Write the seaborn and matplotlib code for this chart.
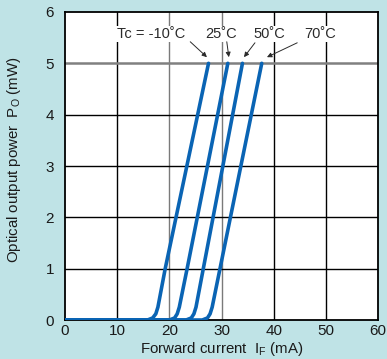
import numpy as np
import pandas as pd
import matplotlib
matplotlib.use("Agg")
import matplotlib.pyplot as plt
import seaborn as sns

# Light output vs forward current
temps = ["-10", "25", "50", "70"]
curve_y = [0, 0, 0.04, 0.12, 0.25, 1, 5]
curve_x = {
    "-10": [0, 15.8, 16.8, 17.4, 17.8, 19.2, 27.5],
    "25": [0, 20.0, 21.0, 21.5, 21.9, 23.4, 31.2],
    "50": [0, 23.2, 24.2, 24.7, 25.1, 26.5, 34.0],
    "70": [0, 26.3, 27.3, 27.8, 28.2, 29.7, 37.7],
}
label_texts = ["Tc = -10˚C", "25˚C", "50˚C", "70˚C"]
label_x = [16.5, 29.9, 39.1, 48.9]
label_y = 5.57
arrow_from = [(24.0, 5.42), (31.0, 5.42), (36.4, 5.40), (44.5, 5.40)]
arrow_to = [(27.2, 5.12), (31.4, 5.12), (34.3, 5.12), (38.7, 5.12)]

x_ticks = [0, 10, 20, 30, 40, 50, 60]
y_ticks = [0, 1, 2, 3, 4, 5, 6]

sns.set_theme(style="white")
plt.rcParams["font.family"] = ["Liberation Sans", "DejaVu Sans"]

bg = "#bfe3e6"
blue = "#0a64b4"

rows = []
for t in temps:
    for xv, yv in zip(curve_x[t], curve_y):
        rows.append({"temp": t, "current": xv, "power": yv})
df = pd.DataFrame(rows)

fig = plt.figure(figsize=(3.87, 3.59), dpi=100, facecolor=bg)
ax = fig.add_axes([0.168, 0.1086, 0.809, 0.858])
ax.set_facecolor("white")

# grid (two verticals and the 5 mW line are grey in the original)
for xv in x_ticks[1:-1]:
    c = "#7a7a7a" if xv in (20, 30) else "black"
    ax.axvline(xv, color=c, lw=1.0, zorder=1)
for yv in y_ticks[1:-1]:
    if yv == 5:
        ax.axhline(yv, color="#808080", lw=1.8, zorder=1)
    else:
        ax.axhline(yv, color="black", lw=1.0, zorder=1)

sns.lineplot(data=df, x="current", y="power", hue="temp", units="temp",
             estimator=None, sort=False, palette=[blue] * 4, lw=2.6,
             legend=False, ax=ax, zorder=3)

for txt, lx in zip(label_texts, label_x):
    ax.text(lx, label_y, txt, ha="center", va="center", fontsize=10.5,
            color="#2a2a2a",
            bbox=dict(facecolor="white", edgecolor="none", pad=0.5))
for (x0, y0), (x1, y1) in zip(arrow_from, arrow_to):
    ax.annotate("", xy=(x1, y1), xytext=(x0, y0),
                arrowprops=dict(arrowstyle="-|>", color="#2a2a2a", lw=0.7,
                                mutation_scale=7, shrinkA=0, shrinkB=0))

ax.set_xlim(0, 60)
ax.set_ylim(0, 6)
ax.set_xticks(x_ticks)
ax.set_yticks(y_ticks)
ax.tick_params(axis="both", length=0, labelsize=11, colors="#1a1a1a")
ax.tick_params(axis="x", pad=3)
ax.tick_params(axis="y", pad=8)
for s in ax.spines.values():
    s.set_color("black")
    s.set_linewidth(1.3)

ax.set_xlabel("Forward current  I$_\\mathregular{F}$ (mA)", fontsize=10.8,
              labelpad=1, color="#1a1a1a")
ax.set_ylabel("Optical output power  P$_\\mathregular{O}$ (mW)", fontsize=10.8,
              color="#1a1a1a")
ax.yaxis.set_label_coords(-0.134, 0.52)

fig.savefig("out.png", dpi=100, facecolor=bg)
